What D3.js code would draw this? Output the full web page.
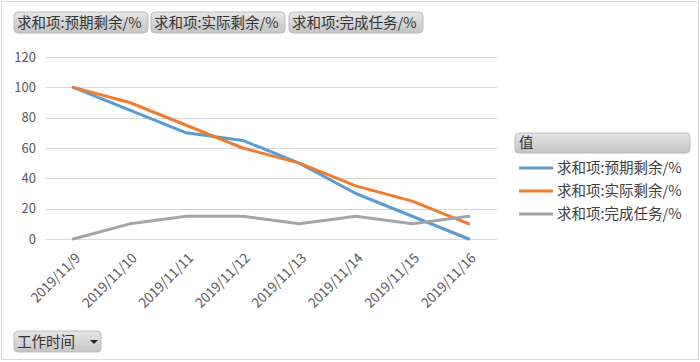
<!DOCTYPE html>
<html lang="zh">
<head>
<meta charset="UTF-8">
<title>工作进度</title>
<script src="https://d3js.org/d3.v7.min.js"></script>
<style>
  body { margin: 0; background: #fff; }
  text { font-family: "Noto Sans CJK SC", "Noto Sans", sans-serif; }
</style>
</head>
<body>
<div id="chart"></div>
<script>

// categories and series
const dates = ["2019/11/9", "2019/11/10", "2019/11/11", "2019/11/12",
               "2019/11/13", "2019/11/14", "2019/11/15", "2019/11/16"];
const expectedLeft = [100, 85, 70, 65, 50, 30, 15, 0];
const actualLeft   = [100, 90, 75, 60, 50, 35, 25, 10];
const doneTask     = [0, 10, 15, 15, 10, 15, 10, 15];
const seriesNames  = ["求和项:预期剩余/%", "求和项:实际剩余/%", "求和项:完成任务/%"];
const yTicks = [0, 20, 40, 60, 80, 100, 120];

const colors = ["#5b9bd5", "#ed7d31", "#a5a5a5"];
const series = [expectedLeft, actualLeft, doneTask];

const width = 700, height = 362;

const svg = d3.select("#chart")
  .append("svg")
    .attr("width", width)
    .attr("height", height);

// outer frame
svg.append("rect")
  .attr("x", 1.5).attr("y", 1.5)
  .attr("width", width - 3).attr("height", height - 4)
  .attr("fill", "#fff")
  .attr("stroke", "#d9d9d9");

const defs = svg.append("defs");
const grad = defs.append("linearGradient")
  .attr("id", "btn").attr("x1", 0).attr("y1", 0).attr("x2", 0).attr("y2", 1);
grad.append("stop").attr("offset", "0%").attr("stop-color", "#e6e6e6");
grad.append("stop").attr("offset", "100%").attr("stop-color", "#c4c4c4");

// field buttons on top
const btnX = [14, 151, 289];
seriesNames.forEach((name, i) => {
  const g = svg.append("g").attr("transform", `translate(${btnX[i]},12)`);
  g.append("rect")
    .attr("width", 134).attr("height", 21).attr("rx", 4)
    .attr("fill", "url(#btn)").attr("stroke", "#bdbdbd");
  g.append("text")
    .attr("x", 3).attr("y", 15.5)
    .attr("font-size", 14.5).attr("fill", "#333")
    .text(name);
});

// scales
const x = d3.scaleBand().domain(dates).range([45, 497]);
const y = d3.scaleLinear().domain([0, 120]).range([239, 57]);

// grid lines
svg.append("g")
  .selectAll("line")
  .data(yTicks)
  .join("line")
    .attr("x1", 45).attr("x2", 497)
    .attr("y1", d => Math.round(y(d)) + 0.5)
    .attr("y2", d => Math.round(y(d)) + 0.5)
    .attr("stroke", "#d9d9d9");

// y axis labels
svg.append("g")
  .selectAll("text")
  .data(yTicks)
  .join("text")
    .attr("x", 36)
    .attr("y", d => y(d) + 4.5)
    .attr("text-anchor", "end")
    .attr("font-size", 13)
    .attr("font-family", "'Liberation Sans', sans-serif")
    .attr("fill", "#595959")
    .text(d => d);

// x axis labels, rotated
svg.append("g")
  .selectAll("text")
  .data(dates)
  .join("text")
    .attr("transform", d => `translate(${x(d) + x.bandwidth() / 2 + 8},259) rotate(-45)`)
    .attr("text-anchor", "end")
    .attr("font-size", 13.5)
    .attr("font-family", "'Liberation Sans', sans-serif")
    .attr("fill", "#595959")
    .text(d => d);

// lines
const line = d3.line()
  .x((d, i) => x(dates[i]) + x.bandwidth() / 2)
  .y(d => y(d));

svg.append("g")
  .selectAll("path")
  .data(series)
  .join("path")
    .attr("d", line)
    .attr("fill", "none")
    .attr("stroke", (d, i) => colors[i])
    .attr("stroke-width", 3)
    .attr("stroke-linejoin", "round")
    .attr("stroke-linecap", "round");

// legend
const legend = svg.append("g").attr("transform", "translate(515,133)");
legend.append("rect")
  .attr("width", 175).attr("height", 20).attr("rx", 4)
  .attr("fill", "url(#btn)").attr("stroke", "#bdbdbd");
legend.append("text")
  .attr("x", 4).attr("y", 15)
  .attr("font-size", 14.5).attr("fill", "#333")
  .text("值");

seriesNames.forEach((name, i) => {
  const ly = 35 + i * 23;
  legend.append("line")
    .attr("x1", 4).attr("x2", 38)
    .attr("y1", ly).attr("y2", ly)
    .attr("stroke", colors[i]).attr("stroke-width", 3);
  legend.append("text")
    .attr("x", 42).attr("y", ly + 5)
    .attr("font-size", 14.5).attr("fill", "#404040")
    .text(name);
});

// row field button
const rowBtn = svg.append("g").attr("transform", "translate(14,331)");
rowBtn.append("rect")
  .attr("width", 87).attr("height", 21).attr("rx", 4)
  .attr("fill", "url(#btn)").attr("stroke", "#bdbdbd");
rowBtn.append("text")
  .attr("x", 3).attr("y", 15.5)
  .attr("font-size", 14.5).attr("fill", "#333")
  .text("工作时间");
rowBtn.append("path")
  .attr("d", "M76,9 L84,9 L80,13 Z")
  .attr("fill", "#222");

</script>
</body>
</html>
